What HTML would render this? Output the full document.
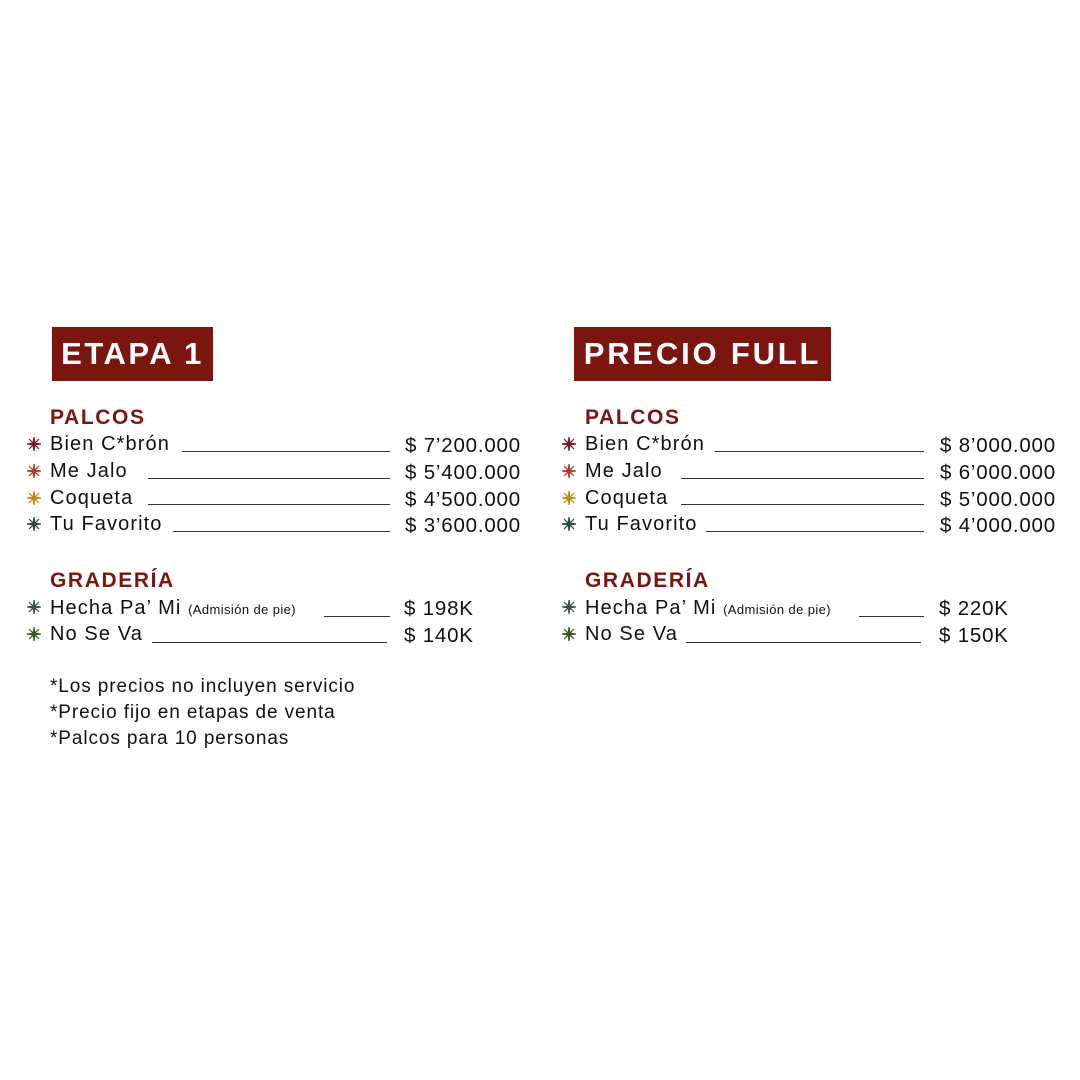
<!DOCTYPE html>
<html><head><meta charset="utf-8"><style>
body{margin:0;width:1080px;height:1080px;background:#fff;position:relative;overflow:hidden;font-family:"Liberation Sans",sans-serif;color:#111}
.a{position:absolute;white-space:nowrap;line-height:20px}
.box{position:absolute;background:#7b1510;color:#fff;font-weight:bold;font-size:31px;line-height:54px;height:54px;text-align:center;top:327px;letter-spacing:2.5px}
.h{position:absolute;color:#7b1510;font-weight:bold;font-size:21px;line-height:20px;letter-spacing:1.6px}
.t{font-size:20px;letter-spacing:1.1px}
.p{font-size:20.5px;letter-spacing:0.8px}
.s{font-size:13px;letter-spacing:0.4px}
.n{font-size:19px;letter-spacing:0.9px}
.l{position:absolute;height:1px;background:#333}
.st{position:absolute;width:14px;height:14px}
</style></head><body>
<svg width="0" height="0" style="position:absolute"><defs>
<g id="star"><path d="M7 0L7.8 6.2L12 2L7.8 6.2L14 7L7.8 7.8L12 12L7.8 7.8L7 14L6.2 7.8L2 12L6.2 7.8L0 7L6.2 6.2L2 2L6.2 6.2Z" stroke="currentColor" stroke-width="1.2" fill="currentColor"/></g></defs></svg>

<div class="box" style="left:52px;width:161px">ETAPA 1</div>
<div class="box" style="left:574px;width:257px;letter-spacing:2.8px">PRECIO FULL</div>

<!-- LEFT -->
<div class="h" style="left:50px;top:408px">PALCOS</div>
<svg class="st" style="left:27px;top:437px;color:#7a1a2a"><use href="#star"/></svg>
<svg class="st" style="left:27px;top:464px;color:#b03a2e"><use href="#star"/></svg>
<svg class="st" style="left:27px;top:491px;color:#c08a10"><use href="#star"/></svg>
<svg class="st" style="left:27px;top:517px;color:#2a4a45"><use href="#star"/></svg>
<div class="a t" style="left:50px;top:434px">Bien C*brón</div>
<div class="a t" style="left:50px;top:461px">Me Jalo</div>
<div class="a t" style="left:50px;top:488px">Coqueta</div>
<div class="a t" style="left:50px;top:514px">Tu Favorito</div>
<div class="l" style="left:182px;width:208px;top:451px"></div>
<div class="l" style="left:148px;width:242px;top:478px"></div>
<div class="l" style="left:148px;width:242px;top:504px"></div>
<div class="l" style="left:173px;width:217px;top:531px"></div>
<div class="a p" style="left:405px;top:436px">$ 7’200.000</div>
<div class="a p" style="left:405px;top:463px">$ 5’400.000</div>
<div class="a p" style="left:405px;top:490px">$ 4’500.000</div>
<div class="a p" style="left:405px;top:516px">$ 3’600.000</div>

<div class="h" style="left:50px;top:571px">GRADERÍA</div>
<svg class="st" style="left:27px;top:600px;color:#3a5058"><use href="#star"/></svg>
<svg class="st" style="left:27px;top:627px;color:#3a5a20"><use href="#star"/></svg>
<div class="a t" style="left:50px;top:598px">Hecha Pa’ Mi <span class="s">(Admisión de pie)</span></div>
<div class="a t" style="left:50px;top:624px">No Se Va</div>
<div class="l" style="left:324px;width:66px;top:616px"></div>
<div class="l" style="left:152px;width:235px;top:642px"></div>
<div class="a p" style="left:404px;top:599px">$ 198K</div>
<div class="a p" style="left:404px;top:626px">$ 140K</div>

<div class="a n" style="left:50px;top:677px">*Los precios no incluyen servicio</div>
<div class="a n" style="left:50px;top:703px">*Precio fijo en etapas de venta</div>
<div class="a n" style="left:50px;top:729px">*Palcos para 10 personas</div>

<!-- RIGHT -->
<div class="h" style="left:585px;top:408px">PALCOS</div>
<svg class="st" style="left:562px;top:437px;color:#7a1a2a"><use href="#star"/></svg>
<svg class="st" style="left:562px;top:464px;color:#b03a2e"><use href="#star"/></svg>
<svg class="st" style="left:562px;top:491px;color:#c08a10"><use href="#star"/></svg>
<svg class="st" style="left:562px;top:517px;color:#2a4a45"><use href="#star"/></svg>
<div class="a t" style="left:585px;top:434px">Bien C*brón</div>
<div class="a t" style="left:585px;top:461px">Me Jalo</div>
<div class="a t" style="left:585px;top:488px">Coqueta</div>
<div class="a t" style="left:585px;top:514px">Tu Favorito</div>
<div class="l" style="left:715px;width:209px;top:451px"></div>
<div class="l" style="left:681px;width:243px;top:478px"></div>
<div class="l" style="left:681px;width:243px;top:504px"></div>
<div class="l" style="left:706px;width:218px;top:531px"></div>
<div class="a p" style="left:940px;top:436px">$ 8’000.000</div>
<div class="a p" style="left:940px;top:463px">$ 6’000.000</div>
<div class="a p" style="left:940px;top:490px">$ 5’000.000</div>
<div class="a p" style="left:940px;top:516px">$ 4’000.000</div>

<div class="h" style="left:585px;top:571px">GRADERÍA</div>
<svg class="st" style="left:562px;top:600px;color:#3a5058"><use href="#star"/></svg>
<svg class="st" style="left:562px;top:627px;color:#3a5a20"><use href="#star"/></svg>
<div class="a t" style="left:585px;top:598px">Hecha Pa’ Mi <span class="s">(Admisión de pie)</span></div>
<div class="a t" style="left:585px;top:624px">No Se Va</div>
<div class="l" style="left:859px;width:65px;top:616px"></div>
<div class="l" style="left:686px;width:235px;top:642px"></div>
<div class="a p" style="left:939px;top:599px">$ 220K</div>
<div class="a p" style="left:939px;top:626px">$ 150K</div>
</body></html>
